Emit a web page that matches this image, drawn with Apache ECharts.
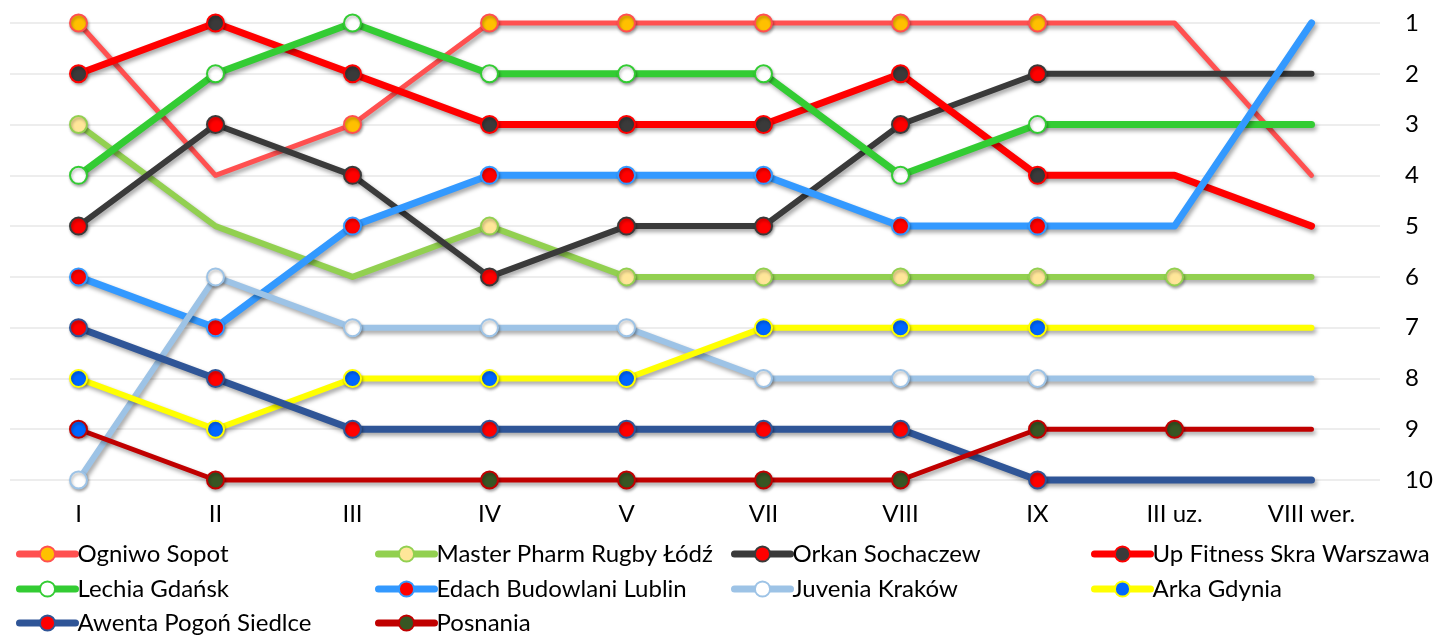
<!DOCTYPE html>
<html><head><meta charset="utf-8">
<script src="https://cdn.jsdelivr.net/npm/echarts@6/dist/echarts.min.js"></script>
<style>html,body{margin:0;padding:0;background:#fff}#c{width:1436px;height:635px}</style>
</head><body><div id="c"></div>
<script>
const categories = ['I','II','III','IV','V','VII','VIII','IX','III uz.','VIII wer.'];
const rankTicks = [1,2,3,4,5,6,7,8,9,10];
const ogniwoSopot   = [1,4,3,1,1,1,1,1,1,4];
const masterPharm   = [3,5,6,5,6,6,6,6,6,6];
const orkan         = [5,3,4,6,5,5,3,2,2,2];
const skra          = [2,1,2,3,3,3,2,4,4,5];
const lechia        = [4,2,1,2,2,2,4,3,3,3];
const edach         = [6,7,5,4,4,4,5,5,5,1];
const juvenia       = [10,6,7,7,7,8,8,8,8,8];
const arka          = [8,9,8,8,8,7,7,7,7,7];
const awenta        = [7,8,9,9,9,9,9,10,10,10];
const posnania      = [9,10,10,10,10,10,10,9,9,9];

// which points carry a marker (style)
const M = [1,1,1,1,1,1,1,1,0,0];
const teams = [
  {name:'Ogniwo Sopot', data:ogniwoSopot, line:'#FF5050', fill:'#FFC000', border:'#FF5050', w:5, mk:[1,0,1,1,1,1,1,1,0,0]},
  {name:'Master Pharm Rugby Łódź', data:masterPharm, line:'#92D050', fill:'#FFE699', border:'#92D050', w:6, mk:[1,0,0,1,1,1,1,1,1,0]},
  {name:'Orkan Sochaczew', data:orkan, line:'#3A3A3A', fill:'#FF0000', border:'#3A3A3A', w:6, mk:M},
  {name:'Up Fitness Skra Warszawa', data:skra, line:'#FF0000', fill:'#3A3A3A', border:'#FF0000', w:7, mk:M},
  {name:'Lechia Gdańsk', data:lechia, line:'#33CC33', fill:'#FFFFFF', border:'#33CC33', w:7, mk:M},
  {name:'Edach Budowlani Lublin', data:edach, line:'#3399FF', fill:'#FF0000', border:'#3399FF', w:7, mk:M},
  {name:'Juvenia Kraków', data:juvenia, line:'#9DC3E6', fill:'#FFFFFF', border:'#9DC3E6', w:6, mk:M},
  {name:'Arka Gdynia', data:arka, line:'#FFFF00', fill:'#0066FF', border:'#FFFF00', w:6, mk:M},
  {name:'Awenta Pogoń Siedlce', data:awenta, line:'#2F5597', fill:'#FF0000', border:'#2F5597', w:7, mk:M},
  {name:'Posnania', data:posnania, line:'#C00000', fill:'#375623', border:'#C00000', w:5, mk:[1,1,0,1,1,1,1,1,1,0], special:{0:'#0066FF'}},
];

const FONT = 'Lato';
const FS = 24;
const series = teams.map(t => ({
  name: t.name,
  type: 'line',
  clip: false,
  symbol: 'circle',
  symbolSize: 17,
  lineStyle: {color: t.line, width: t.w, shadowColor:'rgba(0,0,0,0.35)', shadowBlur:4, shadowOffsetX:2, shadowOffsetY:3, cap:'round', join:'round'},
  itemStyle: {color: t.fill, borderColor: t.border, borderWidth: 2, shadowColor:'rgba(0,0,0,0.3)', shadowBlur:3, shadowOffsetX:1, shadowOffsetY:2},
  emphasis: {disabled: true},
  data: t.data.map((v,i) => {
    const d = {value: v};
    if (!t.mk[i]) d.symbol = 'none';
    if (t.special && t.special[i]) d.itemStyle = {color: t.special[i]};
    return d;
  })
}));

// legend layout: 4 columns x 3 rows, row-major order
const colLeft = [11, 370, 726, 1086];
const rowCenter = [553, 588, 622];
const legends = teams.map((t, i) => ({
  orient:'horizontal',
  left: colLeft[i % 4],
  top: rowCenter[Math.floor(i / 4)] - 16,
  itemWidth:56, itemHeight:19,
  data:[t.name], selectedMode:false,
  lineStyle:{width: 7, color: t.line},
  itemStyle:{borderWidth:2},
  textStyle:{fontFamily:FONT, fontSize:FS, color:'#000', padding:[0,0,0,-3]}
}));

const chart = echarts.init(document.getElementById('c'), null, {renderer:'canvas'});
chart.setOption({
  animation:false,
  backgroundColor:'#fff',
  grid:{left:10, right:56, top:23, height:457, containLabel:false},
  legend: legends,
  xAxis:{type:'category', data:categories, boundaryGap:true,
    axisLine:{show:false}, axisTick:{show:false},
    axisLabel:{fontFamily:FONT, fontSize:FS, color:'#000', margin:22}},
  yAxis:{type:'value', inverse:true, min:1, max:10, interval:1, position:'right',
    axisLine:{show:false}, axisTick:{show:false},
    splitLine:{lineStyle:{color:'#EDEDED', width:2}},
    axisLabel:{fontFamily:FONT, fontSize:FS, color:'#000', margin:25, align:'left',
      formatter: v => rankTicks.includes(v) ? String(v) : ''}},
  series
});
</script></body></html>
